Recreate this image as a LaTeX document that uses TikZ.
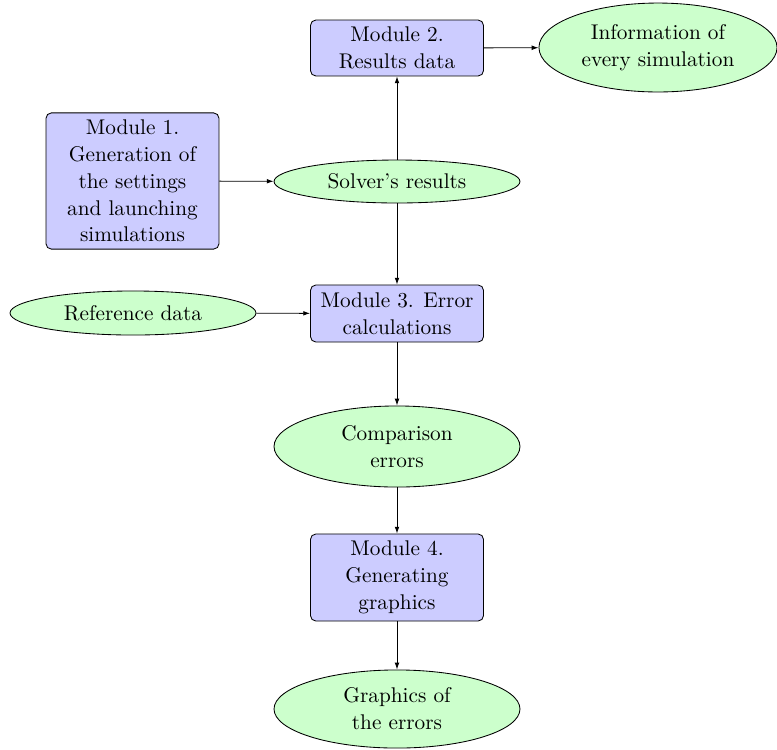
\documentclass[tikz,border=0pt]{standalone}
\usetikzlibrary{shapes.geometric,arrows.meta}
\begin{document}
\begin{tikzpicture}[x=0.47pt,y=-0.47pt,
  every node/.style={font=\fontsize{10}{12.6}\selectfont},
  modbox/.style={draw,rounded corners=2.5pt,fill=blue!20,align=center,minimum width=81.3pt,inner sep=2pt},
  datael/.style={draw,ellipse,fill=green!20,align=center,minimum width=115.6pt,inner sep=1pt},
  conn/.style={-{Latex[length=3.2pt,width=2.2pt]},line width=0.4pt}]
\useasboundingbox (0,0) rectangle (777,749);
\node[modbox,minimum height=26.3pt] (m2) at (397,48) {Module 2.\\Results data};
\node[datael,minimum width=111.9pt,minimum height=41.8pt] (info) at (658,47.5) {Information of\\every simulation};
\node[modbox,minimum height=64pt] (m1) at (132.5,181) {Module 1.\\Generation of\\the settings\\and launching\\simulations};
\node[datael,minimum height=20.2pt] (solver) at (397,181.5) {Solver's results};
\node[datael,minimum height=20.7pt] (ref) at (133,313) {Reference data};
\node[modbox,minimum height=26.8pt] (m3) at (397,313.5) {Module 3. Error\\calculations};
\node[datael,minimum height=38.1pt] (comp) at (397,446.5) {Comparison\\errors};
\node[modbox,minimum height=40.9pt] (m4) at (397,577.5) {Module 4.\\Generating\\graphics};
\node[datael,minimum height=36.7pt] (graph) at (397,709) {Graphics of\\the errors};
\draw[conn] (m1) -- (solver);
\draw[conn] (solver) -- (m2);
\draw[conn] (m2) -- (info);
\draw[conn] (solver) -- (m3);
\draw[conn] (ref) -- (m3);
\draw[conn] (m3) -- (comp);
\draw[conn] (comp) -- (m4);
\draw[conn] (m4) -- (graph);
\end{tikzpicture}
\end{document}
